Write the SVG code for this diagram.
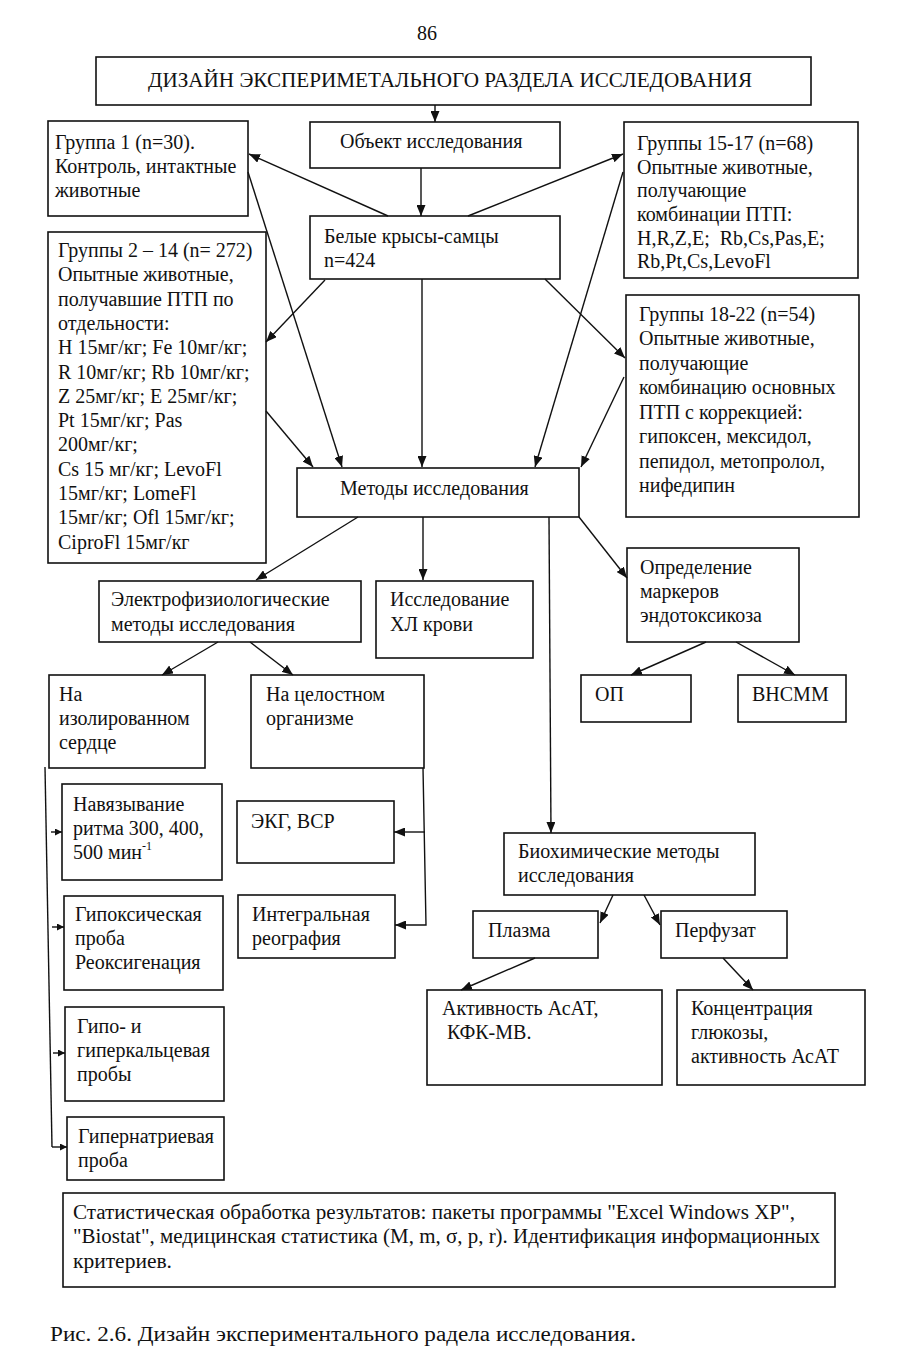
<svg xmlns="http://www.w3.org/2000/svg" width="909" height="1359" viewBox="0 0 909 1359">
<defs>
<marker id="a" markerUnits="userSpaceOnUse" markerWidth="11" markerHeight="9" refX="11" refY="4.5" orient="auto"><path d="M0,0 L11,4.5 L0,9 z" fill="#111"/></marker>
<marker id="s" markerUnits="userSpaceOnUse" markerWidth="7" markerHeight="7" refX="7" refY="3.5" orient="auto"><path d="M0,0 L7,3.5 L0,7 z" fill="#111"/></marker>
<style>
rect{fill:#fff;stroke:#111;stroke-width:1.6}
text{font-family:"Liberation Serif","Times New Roman",serif;font-size:20px;fill:#111}
.c line,.c polyline{stroke:#111;stroke-width:1.4;fill:none}
.ar{marker-end:url(#a)}
.sm{marker-end:url(#s)}
</style>
</defs>
<rect x="0" y="0" width="909" height="1359" style="stroke:none"/>
<text x="427" y="40" text-anchor="middle">86</text>

<g id="title"><rect x="96" y="57" width="715" height="48"/><text x="450" y="87" text-anchor="middle" textLength="604" lengthAdjust="spacingAndGlyphs">ДИЗАЙН ЭКСПЕРИМЕТАЛЬНОГО РАЗДЕЛА ИССЛЕДОВАНИЯ</text></g>

<g id="object"><rect x="310" y="122" width="250" height="46"/><text x="340" y="148">Объект исследования</text></g>

<g id="group1"><rect x="48" y="121" width="200" height="95"/><text x="55" y="149">Группа 1 (n=30).</text><text x="55" y="173">Контроль, интактные</text><text x="55" y="197">животные</text></g>

<g id="group15"><rect x="624" y="122" width="234" height="156"/>
<text x="637" y="150">Группы 15-17 (n=68)</text>
<text x="637" y="174">Опытные животные,</text>
<text x="637" y="197">получающие</text>
<text x="637" y="221">комбинации ПТП:</text>
<text x="637" y="245" xml:space="preserve">H,R,Z,E;  Rb,Cs,Pas,E;</text>
<text x="637" y="268">Rb,Pt,Cs,LevoFl</text></g>

<g id="rats"><rect x="310" y="216" width="250" height="63"/><text x="324" y="243">Белые крысы-самцы</text><text x="324" y="267">n=424</text></g>

<g id="group2"><rect x="48" y="232" width="218" height="331"/>
<text x="58" y="257">Группы 2 – 14 (n= 272)</text>
<text x="58" y="281">Опытные животные,</text>
<text x="58" y="306">получавшие ПТП по</text>
<text x="58" y="330">отдельности:</text>
<text x="58" y="354">H 15мг/кг; Fe 10мг/кг;</text>
<text x="58" y="379">R 10мг/кг; Rb 10мг/кг;</text>
<text x="58" y="403">Z 25мг/кг; E 25мг/кг;</text>
<text x="58" y="427">Pt 15мг/кг; Pas</text>
<text x="58" y="451">200мг/кг;</text>
<text x="58" y="476">Cs 15 мг/кг; LevoFl</text>
<text x="58" y="500">15мг/кг; LomeFl</text>
<text x="58" y="524">15мг/кг; Ofl 15мг/кг;</text>
<text x="58" y="549">CiproFl 15мг/кг</text></g>

<g id="group18"><rect x="626" y="295" width="233" height="222"/>
<text x="639" y="321">Группы 18-22 (n=54)</text>
<text x="639" y="345">Опытные животные,</text>
<text x="639" y="370">получающие</text>
<text x="639" y="394">комбинацию основных</text>
<text x="639" y="419">ПТП с коррекцией:</text>
<text x="639" y="443">гипоксен, мексидол,</text>
<text x="639" y="468">пепидол, метопролол,</text>
<text x="639" y="492">нифедипин</text></g>

<g id="methods"><rect x="297" y="468" width="282" height="49"/><text x="340" y="495">Методы исследования</text></g>

<g id="electro"><rect x="99" y="581" width="262" height="61"/><text x="111" y="606">Электрофизиологические</text><text x="111" y="631">методы исследования</text></g>

<g id="hl"><rect x="376" y="581" width="157" height="77"/><text x="390" y="606">Исследование</text><text x="390" y="631">ХЛ крови</text></g>

<g id="markers"><rect x="627" y="548" width="172" height="94"/><text x="640" y="574">Определение</text><text x="640" y="598">маркеров</text><text x="640" y="622">эндотоксикоза</text></g>

<g id="op"><rect x="581" y="675" width="110" height="47"/><text x="595" y="701">ОП</text></g>
<g id="vnsmm"><rect x="738" y="675" width="108" height="47"/><text x="752" y="701">ВНСММ</text></g>

<g id="isolated"><rect x="49" y="675" width="156" height="93"/><text x="59" y="701">На</text><text x="59" y="725">изолированном</text><text x="59" y="749">сердце</text></g>

<g id="whole"><rect x="251" y="675" width="173" height="93"/><text x="266" y="701">На целостном</text><text x="266" y="725">организме</text></g>

<g id="pacing"><rect x="62" y="784" width="160" height="96"/><text x="73" y="811">Навязывание</text><text x="73" y="835">ритма 300, 400,</text><text x="73" y="859">500 мин<tspan font-size="12" dy="-9">-1</tspan></text></g>

<g id="hypoxic"><rect x="64" y="896" width="159" height="94"/><text x="75" y="921">Гипоксическая</text><text x="75" y="945">проба</text><text x="75" y="969">Реоксигенация</text></g>

<g id="calcium"><rect x="65" y="1007" width="159" height="94"/><text x="77" y="1033">Гипо- и</text><text x="77" y="1057">гиперкальцевая</text><text x="77" y="1081">пробы</text></g>

<g id="natrium"><rect x="67" y="1117" width="157" height="63"/><text x="78" y="1143">Гипернатриевая</text><text x="78" y="1167">проба</text></g>

<g id="ecg"><rect x="237" y="801" width="157" height="62"/><text x="251" y="828">ЭКГ, ВСР</text></g>

<g id="rheo"><rect x="238" y="895" width="157" height="63"/><text x="252" y="921">Интегральная</text><text x="252" y="945">реография</text></g>

<g id="biochem"><rect x="504" y="833" width="251" height="62"/><text x="518" y="858">Биохимические методы</text><text x="518" y="882">исследования</text></g>

<g id="plasma"><rect x="473" y="911" width="125" height="47"/><text x="488" y="937">Плазма</text></g>
<g id="perfusate"><rect x="661" y="911" width="126" height="47"/><text x="675" y="937">Перфузат</text></g>

<g id="asat"><rect x="427" y="990" width="235" height="95"/><text x="442" y="1015">Активность АсАТ,</text><text x="447" y="1039">КФК-МВ.</text></g>

<g id="glucose"><rect x="677" y="990" width="188" height="95"/><text x="691" y="1015">Концентрация</text><text x="691" y="1039">глюкозы,</text><text x="691" y="1063">активность АсАТ</text></g>

<g id="stats"><rect x="63" y="1193" width="772" height="94"/>
<text x="73" y="1219" textLength="722" lengthAdjust="spacingAndGlyphs">Статистическая обработка результатов: пакеты программы "Excel Windows XP",</text>
<text x="73" y="1243" textLength="747" lengthAdjust="spacingAndGlyphs">"Biostat", медицинская статистика (M, m, σ, p, r). Идентификация информационных</text>
<text x="73" y="1268" textLength="99" lengthAdjust="spacingAndGlyphs">критериев.</text></g>

<text x="50" y="1341" font-size="21" textLength="586" lengthAdjust="spacingAndGlyphs">Рис. 2.6. Дизайн экспериментального радела исследования.</text>

<g id="connectors" class="c">
<line class="ar" x1="435" y1="105" x2="435" y2="122"/>
<line class="ar" x1="421" y1="168" x2="421" y2="216"/>
<line class="ar" x1="388" y1="216" x2="249" y2="154"/>
<line class="ar" x1="468" y1="216" x2="623" y2="154"/>
<line class="ar" x1="248" y1="172" x2="342" y2="467"/>
<line class="ar" x1="325" y1="280" x2="266" y2="342"/>
<line class="ar" x1="266" y1="411" x2="313" y2="467"/>
<line class="ar" x1="422" y1="279" x2="422" y2="467"/>
<line class="ar" x1="623" y1="172" x2="535" y2="467"/>
<line class="ar" x1="545" y1="279" x2="625" y2="358"/>
<line class="ar" x1="624" y1="377" x2="581" y2="467"/>
<line class="ar" x1="358" y1="517" x2="256" y2="580"/>
<line class="ar" x1="423" y1="517" x2="423" y2="580"/>
<line class="ar" x1="549" y1="517" x2="551" y2="833"/>
<line class="ar" x1="579" y1="517" x2="627" y2="578"/>
<line class="ar" x1="706" y1="642" x2="631" y2="675"/>
<line class="ar" x1="736" y1="642" x2="795" y2="675"/>
<line class="ar" x1="218" y1="642" x2="162" y2="675"/>
<line class="ar" x1="250" y1="642" x2="293" y2="675"/>
<polyline class="ar" points="423,768 426,925 395,925"/>
<line class="ar" x1="425" y1="832" x2="394" y2="832"/>
<polyline points="45,767 52,1147"/>
<line class="sm" x1="51" y1="832" x2="62" y2="832"/>
<line class="sm" x1="52" y1="927" x2="64" y2="927"/>
<line class="sm" x1="53" y1="1053" x2="65" y2="1053"/>
<line class="sm" x1="52" y1="1147" x2="67" y2="1147"/>
<line class="ar" x1="613" y1="895" x2="600" y2="923"/>
<line class="ar" x1="644" y1="895" x2="660" y2="925"/>
<line class="ar" x1="535" y1="958" x2="461" y2="990"/>
<line class="ar" x1="723" y1="958" x2="753" y2="990"/>
</g>
</svg>
